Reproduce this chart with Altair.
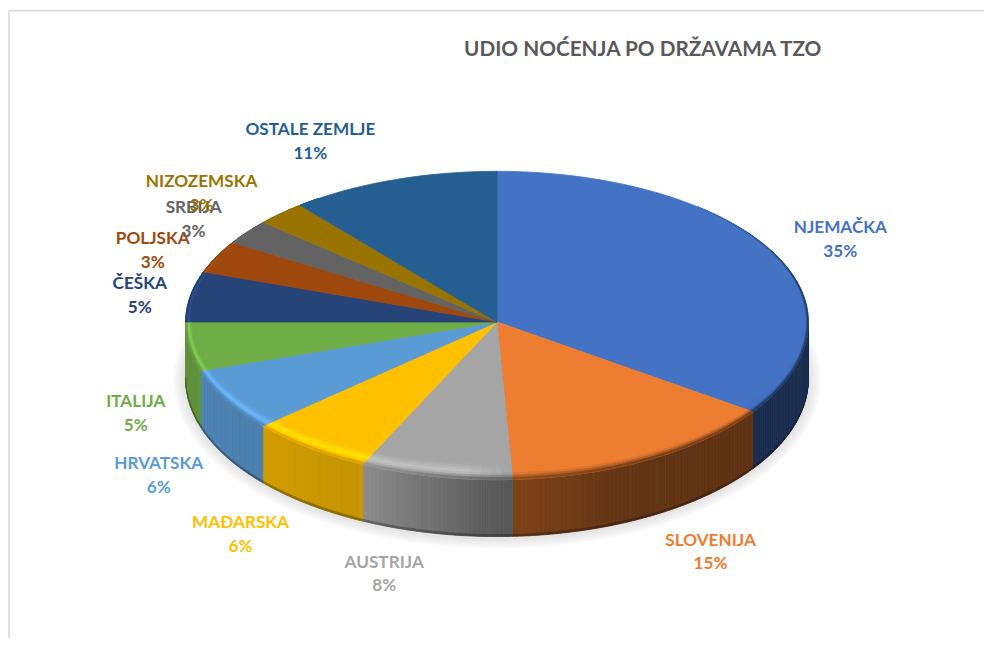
import math
import numpy as np
import altair as alt

# ---- chart values -------------------------------------------------------
CATEGORIES = ["NJEMAČKA", "SLOVENIJA", "AUSTRIJA", "MAĐARSKA", "HRVATSKA", "ITALIJA",
              "ČEŠKA", "POLJSKA", "SRBIJA", "NIZOZEMSKA", "OSTALE ZEMLJE"]
SHARES = [34.65, 14.55, 7.9, 6.45, 6.45, 5.0, 5.4, 3.45, 2.65, 2.6, 10.9]
COLORS = ["#4472C4", "#ED7D31", "#A5A5A5", "#FFC000", "#5B9BD5", "#70AD47",
          "#264478", "#9E480E", "#636363", "#997300", "#255E91"]
TITLE = "UDIO NOĆENJA PO DRŽAVAMA TZO"

# ---- layout / style (pixels in the page) --------------------------------
CX, CY, RX = 497, 322, 312
RY_BACK, RY_FRONT = 151, 158
DEPTH = 57
LABEL_X = [841, 711, 384, 240, 158, 135, 139, 152, 193, 201, 310]
LABEL_Y = [228, 541, 563, 523, 464, 402, 284, 239, 208, 182, 130]
LINE_GAP = 24
TITLE_POS = (643, 49)
FONT = "Lato"

def u(px, py):
    return [(px - CX) / RX, -(py - CY) / RX]

def rim(theta, bevel=0.0, drop=0.0):
    """Rim point at clockwise angle theta from 12 o'clock; bevel pulls it along the radius."""
    s, c = math.sin(theta), math.cos(theta)
    ry = RY_FRONT if c < 0 else RY_BACK
    g = .018 * (1 - c) if c >= 0 else .018 + .082 * c * c
    g *= bevel
    x = RX * s * (1 - g)
    y = -ry * c * (1 - g) + drop
    return [x / RX, -y / RX]

def side_factor(x):
    return float(np.interp(x, [-1, -.75, -.44, -.43, -.05, .05, .4, .8, 1],
                              [.85, .82, .77, .85, .57, .53, .42, .40, .40]))

def peak_factor(x):
    return float(np.interp(x, [-1, -.1, .05, 1], [1.2, 1.18, 1.0, 1.0]))

def strength(theta):
    d = math.degrees(theta)
    return min(1.0, max(0.0, (d - 40) / 30), max(0.0, (325 - d) / 40))

def shade(col, f):
    r, g, b = int(col[1:3], 16), int(col[3:5], 16), int(col[5:7], 16)
    return "#%02x%02x%02x" % tuple(min(255, int(v * f)) for v in (r, g, b))

def feature(ring, color):
    ring = ring + [ring[0]]
    return {"type": "Feature", "properties": {"color": color},
            "geometry": {"type": "Polygon", "coordinates": [ring]}}

# slice angles from the shares
bounds = np.cumsum([0] + SHARES) / sum(SHARES) * 2 * math.pi

def slice_grid(a, b, step):
    return np.linspace(a, b, max(3, int((b - a) / math.radians(step)) + 1))

shadow, sides, tops, bevels = [], [], [], []

# soft shadow under the pie
full = np.linspace(0, 2 * math.pi, 181)
for grow, col in zip([15, 12, 9, 6, 3], ["#f8f8f8", "#f3f3f3", "#eeeeee", "#e9e9e9", "#e5e5e5"]):
    ring = []
    for t in full:
        s, c = math.sin(t), math.cos(t)
        ry = (RY_FRONT if c < 0 else RY_BACK) + grow * .7
        ring.append([(RX + grow * .8) * s / RX, -(-ry * c + DEPTH + 1) / RX])
    shadow.append(feature(ring, col))

for col, a, b in zip(COLORS, bounds[:-1], bounds[1:]):
    # side wall, made of thin lit strips (front half only)
    fine = slice_grid(a, b, 0.8)
    for t0, t1 in zip(fine[:-1], fine[1:]):
        if math.cos((t0 + t1) / 2) < 0:
            f = side_factor(math.sin((t0 + t1) / 2))
            sides.append(feature([rim(t0), rim(t1), rim(t1, drop=DEPTH - 2), rim(t0, drop=DEPTH - 2)],
                                 shade(col, f)))
            sides.append(feature([rim(t0, drop=DEPTH - 2), rim(t1, drop=DEPTH - 2),
                                  rim(t1, drop=DEPTH), rim(t0, drop=DEPTH)], shade(col, f * .7)))
    # top face
    grid = slice_grid(a, b, 2)
    tops.append(feature([[0.0, 0.0]] + [rim(t) for t in grid], col))
    # bevel along the rim
    levels = np.linspace(0, 1, 8)
    for k0, k1 in zip(levels[:-1], levels[1:]):
        k = (k0 + k1) / 2
        for t0, t1 in zip(grid[:-1], grid[1:]):
            mid = (t0 + t1) / 2
            w = strength(mid)
            if w <= 0:
                continue
            x = math.sin(mid)
            f, p = side_factor(x), peak_factor(x)
            m = 1 + (p - 1) * k / .55 if k < .55 else p + (f - p) * ((k - .55) / .45) ** 1.3
            m = 1 + (m - 1) * w
            bevels.append(feature([rim(t0, 1 - k0), rim(t1, 1 - k0), rim(t1, 1 - k1), rim(t0, 1 - k1)],
                                  shade(col, m)))

def geo(features, seam=0.8):
    return alt.Chart(alt.Data(values=features)).mark_geoshape(strokeWidth=seam).encode(
        fill=alt.Fill("properties.color:N", scale=None),
        stroke=alt.Stroke("properties.color:N", scale=None),
    )

label_rows = []
for name, share, col, lx, ly in zip(CATEGORIES, SHARES, COLORS, LABEL_X, LABEL_Y):
    lon, lat = u(lx, ly)
    label_rows.append({"text": name, "lon": lon, "lat": lat, "color": col})
    lon, lat = u(lx, ly + LINE_GAP)
    label_rows.append({"text": f"{round(share)}%", "lon": lon, "lat": lat, "color": col})

labels = alt.Chart(alt.Data(values=label_rows)).mark_text(
    font=FONT, fontWeight="bold", fontSize=17.2, align="center", baseline="middle"
).encode(
    longitude="lon:Q", latitude="lat:Q", text="text:N",
    color=alt.Color("color:N", scale=None),
)

tx, ty = u(*TITLE_POS)
title = alt.Chart(alt.Data(values=[{"text": TITLE, "lon": tx, "lat": ty}])).mark_text(
    font=FONT, fontWeight="bold", fontSize=20.8, align="center", baseline="middle", color="#595959"
).encode(longitude="lon:Q", latitude="lat:Q", text="text:N")

frame_top = alt.Chart().mark_rule(color="#d9d9d9", strokeWidth=1.6).encode(
    x=alt.value(0), x2=alt.value(977), y=alt.value(2))
frame_left = alt.Chart().mark_rule(color="#d9d9d9", strokeWidth=1.6).encode(
    x=alt.value(0), y=alt.value(2), y2=alt.value(631))

chart = alt.layer(
    frame_top, frame_left, geo(shadow, 0), geo(sides), geo(tops), geo(bevels), labels, title
).project(
    type="identity", reflectY=True, scale=RX, translate=[CX - 8, CY - 8]
).properties(
    width=977, height=631, padding=0
).configure_view(stroke=None)

chart.save("out.html", embed_options={"renderer": "svg", "actions": False})
